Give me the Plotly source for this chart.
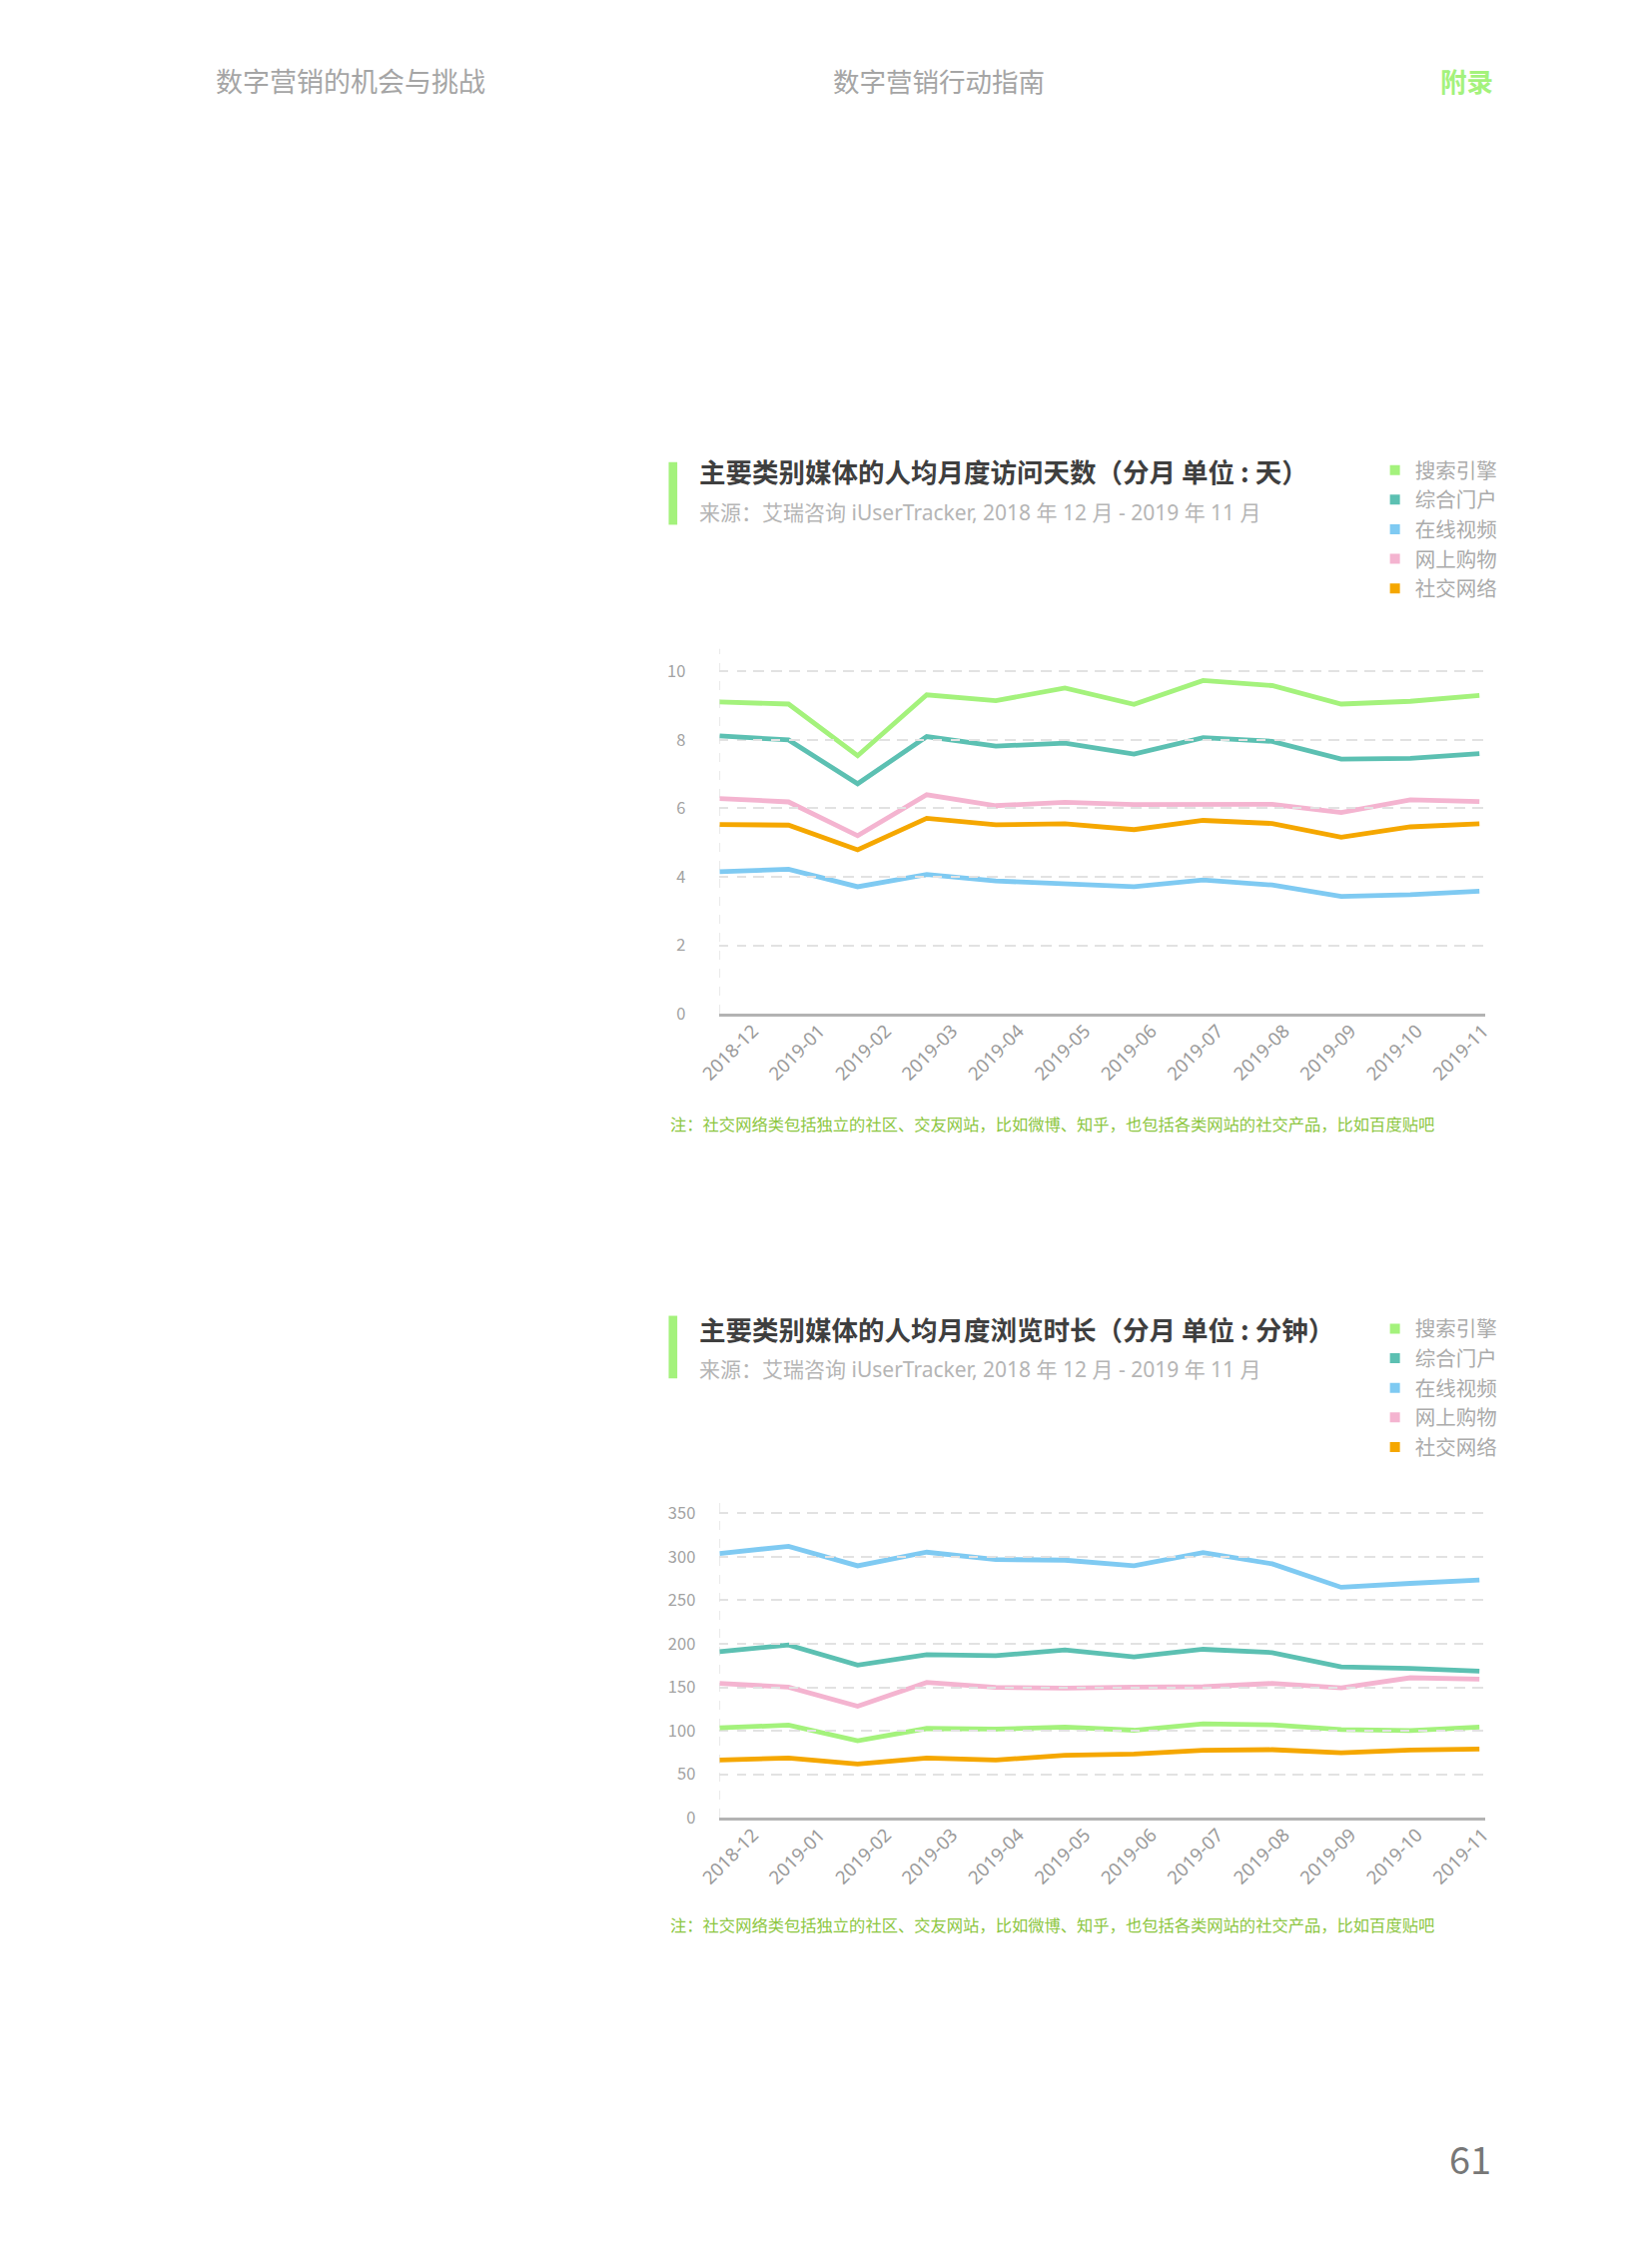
import plotly.graph_objects as go

W, H = 1654, 2244
FONT = "Noto Sans CJK SC"
FONT_MIX = "Noto Sans, Noto Sans CJK SC"

months = ["2018-12", "2019-01", "2019-02", "2019-03", "2019-04", "2019-05",
          "2019-06", "2019-07", "2019-08", "2019-09", "2019-10", "2019-11"]
series_names = ["搜索引擎", "综合门户", "在线视频", "网上购物", "社交网络"]
series_colors = ["#a4f27c", "#5cc0b2", "#7fcaf2", "#f4b4d0", "#f5a700"]

# Chart 1: average monthly visit days (days)
days_search = [9.11, 9.05, 7.54, 9.32, 9.15, 9.52, 9.04, 9.74, 9.59, 9.05, 9.13, 9.30]
days_portal = [8.12, 8.00, 6.72, 8.10, 7.82, 7.91, 7.59, 8.07, 7.96, 7.44, 7.46, 7.60]
days_video = [4.15, 4.22, 3.71, 4.07, 3.88, 3.81, 3.71, 3.91, 3.76, 3.43, 3.48, 3.58]
days_shop = [6.29, 6.19, 5.20, 6.40, 6.08, 6.18, 6.11, 6.11, 6.12, 5.88, 6.25, 6.20]
days_social = [5.53, 5.51, 4.79, 5.71, 5.52, 5.55, 5.38, 5.65, 5.56, 5.16, 5.46, 5.55]

# Chart 2: average monthly browsing time (minutes)
mins_search = [103.3, 106.4, 88.4, 102.6, 101.8, 104.1, 100.6, 107.9, 106.7, 101.4, 100.3, 104.1]
mins_portal = [191.0, 198.6, 175.4, 187.6, 186.4, 192.9, 184.9, 193.7, 189.9, 173.5, 171.6, 168.5]
mins_video = [303.9, 312.2, 289.7, 305.4, 297.0, 296.2, 289.7, 305.0, 292.0, 265.0, 269.5, 273.4]
mins_shop = [154.4, 150.2, 128.1, 155.5, 149.8, 149.1, 150.2, 150.6, 154.4, 149.4, 160.9, 159.4]
mins_social = [66.3, 68.6, 61.8, 68.6, 66.3, 71.7, 73.2, 77.4, 78.2, 74.7, 77.8, 78.9]

title1 = "主要类别媒体的人均月度访问天数（分月 单位 : 天）"
title2 = "主要类别媒体的人均月度浏览时长（分月 单位 : 分钟）"
subtitle = "来源：艾瑞咨询 iUserTracker, 2018 年 12 月 - 2019 年 11 月"
note = "注：社交网络类包括独立的社区、交友网站，比如微博、知乎，也包括各类网站的社交产品，比如百度贴吧"
header_left = "数字营销的机会与挑战"
header_mid = "数字营销行动指南"
header_right = "附录"
page_no = "61"

def px_x(p):
    return p / W

def px_y(p):
    return 1 - p / H

fig = go.Figure()

data1 = [days_search, days_portal, days_video, days_shop, days_social]
data2 = [mins_search, mins_portal, mins_video, mins_shop, mins_social]
for ax, ay, lab_ax, data, leg in [("x", "y", "x3", data1, "legend"),
                                   ("x2", "y2", "x4", data2, "legend2")]:
    for name, color, vals in zip(series_names, series_colors, data):
        fig.add_trace(go.Scatter(x=months, y=vals, mode="lines", name=name,
                                 line=dict(color=color, width=4.8),
                                 xaxis=ax, yaxis=ay, showlegend=False,
                                 hoverinfo="skip"))
    for name, color in zip(series_names, series_colors):
        fig.add_trace(go.Scatter(x=[None], y=[None], mode="markers", name=name,
                                 marker=dict(symbol="square", size=10, color=color),
                                 xaxis=ax, yaxis=ay, legend=leg, legendgroup=leg + name,
                                 showlegend=True))
    # invisible carrier so the tick-label axis is drawn
    fig.add_trace(go.Scatter(x=list(range(len(months))), y=data[0], mode="markers",
                             marker=dict(opacity=0, size=1), xaxis=lab_ax, yaxis=ay,
                             showlegend=False, hoverinfo="skip"))

X0, X1 = 683, 1482
xdom = [px_x(X0), px_x(X1)]
xrange_ = [0, 11.083]
lab_dom = [px_x(718), px_x(1480)]

def main_x(anchor):
    return dict(domain=xdom, anchor=anchor, type="category", range=xrange_,
                showticklabels=False, showgrid=False,
                showline=True, linecolor="#b3b3b3", linewidth=2.5,
                zeroline=False, fixedrange=True)

def label_x(anchor):
    return dict(domain=lab_dom, anchor=anchor, range=[0, 11],
                tickmode="array", tickvals=list(range(len(months))), ticktext=months,
                tickangle=-45, showgrid=False, showline=False, zeroline=False,
                ticklabelstandoff=2,
                tickfont=dict(family=FONT_MIX, size=18.5, color="#9a9a9a"))

def main_y(dom, rng, dtick, standoff, anchor):
    return dict(domain=dom, anchor=anchor, range=rng, dtick=dtick, tick0=0,
                showgrid=True, gridcolor="#e2e2e2", griddash="dash", gridwidth=1.5,
                showline=False, zeroline=False, ticklabelstandoff=standoff,
                tickfont=dict(family=FONT, size=16.5, color="#a3a3a3"))

fig.update_layout(
    width=W, height=H, margin=dict(l=0, r=0, t=0, b=0),
    paper_bgcolor="white", plot_bgcolor="rgba(0,0,0,0)",
    font=dict(family=FONT),
    xaxis=main_x("y"),
    xaxis2=main_x("y2"),
    xaxis3=label_x("y"),
    xaxis4=label_x("y2"),
    yaxis=main_y([px_y(1012), px_y(645)], [0, 10.66], 2, 33, "x"),
    yaxis2=main_y([px_y(1821), px_y(1500)], [0, 367], 50, 23, "x2"),
    legend=dict(x=px_x(1367), y=px_y(445), xanchor="left", yanchor="top",
                font=dict(family=FONT, size=20.5, color="#ababab"),
                itemwidth=30, tracegroupgap=0, bgcolor="rgba(0,0,0,0)"),
    legend2=dict(x=px_x(1367), y=px_y(1309), xanchor="left", yanchor="top",
                 font=dict(family=FONT, size=20.5, color="#ababab"),
                 itemwidth=30, tracegroupgap=0, bgcolor="rgba(0,0,0,0)"),
    showlegend=True,
)

annotations = []
shapes = []

def add_text(text, x, y, size, color, xanchor="left", bold=False, family=FONT):
    annotations.append(dict(text=("<b>%s</b>" % text) if bold else text,
                            x=px_x(x), y=px_y(y), xref="paper", yref="paper",
                            xanchor=xanchor, yanchor="middle", showarrow=False,
                            font=dict(family=family, size=size, color=color)))

# header
add_text(header_left, 298, 73, 27, "#a5a5a5", xanchor="center")
add_text(header_mid, 912, 73, 26.5, "#a5a5a5", xanchor="center")
add_text(header_right, 1492, 73, 26.5, "#a4f27c", xanchor="right", bold=True)
add_text(page_no, 1490, 2163, 38, "#777777", xanchor="right")

for t, bar_y, title_y, sub_y, note_y in [(title1, 457, 466, 507, 1122),
                                          (title2, 1316, 1329, 1370, 1928)]:
    shapes.append(dict(type="rect", xref="paper", yref="paper",
                       x0=px_x(630), x1=px_x(639), y0=px_y(bar_y), y1=px_y(bar_y + 63),
                       fillcolor="#a4f27c", line=dict(width=0)))
    add_text(t, 660, title_y, 26.5, "#3f3f3f", bold=True)
    add_text(subtitle, 660, sub_y, 21, "#b5b5b5", family=FONT_MIX)
    add_text(note, 630, note_y, 16.3, "#8cc63f")

# dashed vertical y-axis lines at the first category
for xr, yr in [("x", "y domain"), ("x2", "y2 domain")]:
    shapes.append(dict(type="line", xref=xr, yref=yr, x0=0, x1=0, y0=0, y1=1,
                       line=dict(color="#e2e2e2", width=1.5, dash="dash"), layer="below"))

fig.update_layout(annotations=annotations, shapes=shapes)

fig.write_html("out.html")
